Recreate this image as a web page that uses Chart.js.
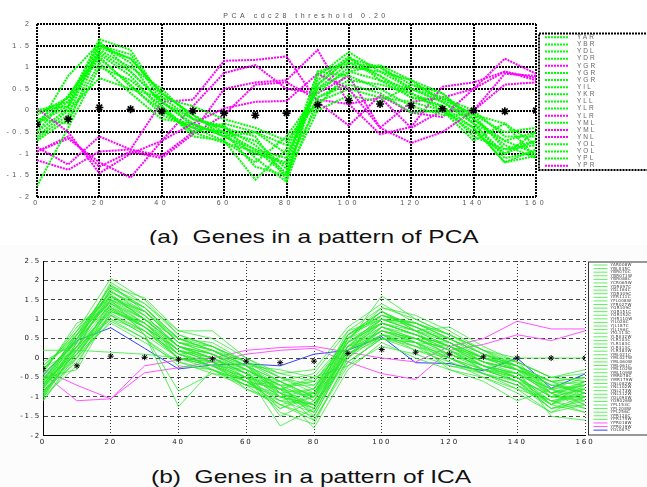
<!DOCTYPE html>
<html>
<head>
<meta charset="utf-8">
<script src="https://cdn.jsdelivr.net/npm/chart.js@4.4.1/dist/chart.umd.min.js"></script>
<style>
  html, body { margin: 0; padding: 0; background: #fff; }
  body { position: relative; width: 647px; height: 487px; overflow: hidden; font-family: "Liberation Sans", Arial, sans-serif; }
  #pcaCanvas { position: absolute; left: 0; top: 0; }
  .caption { position: absolute; font-size: 19px; line-height: 19px; color: #111; white-space: pre; transform: scaleX(1.29); transform-origin: 0 0; }
  #capA { left: 149px; top: 227px; }
  #lower { position: absolute; left: 0; top: 245px; width: 647px; height: 242px; background: #fcfcfc; }
  #icaCanvas { position: absolute; left: 0; top: 0; }
  #capB { left: 151px; top: 222px; }
</style>
</head>
<body>
<canvas id="pcaCanvas" width="647" height="215"></canvas>
<div class="caption" id="capA">(a)  Genes in a pattern of PCA</div>
<div id="lower">
  <canvas id="icaCanvas" width="647" height="215"></canvas>
  <div class="caption" id="capB">(b)  Genes in a pattern of ICA</div>
</div>
<script>
// time points (minutes) shared by both panels
const times = [0, 10, 20, 30, 40, 50, 60, 70, 80, 90, 100, 110, 120, 130, 140, 150, 160];

// ---- (a) PCA, cdc28, threshold 0.20 ----
const pcaGenes = ['YAR', 'YBR', 'YDL', 'YDR', 'YGR', 'YGR', 'YGR', 'YIL', 'YKR', 'YLL',
                  'YLR', 'YLR', 'YML', 'YML', 'YNL', 'YOL', 'YOL', 'YPL', 'YPR'];
// 'g' = green cluster, 'm' = magenta (anti-correlated)
const pcaGroup = ['g', 'g', 'g', 'g', 'm', 'g', 'g', 'g', 'g', 'g',
                  'g', 'm', 'g', 'm', 'm', 'g', 'g', 'g', 'm'];
const pcaValues = [
  [-0.3, 0.2, 1.65, 1.4, 0.3, -0.2, -0.4, -0.6, -1.6, 0.8, 1.35, 0.9, 0.5, 0.2, -0.3, -0.7, -1.0],
  [-0.1, 0.3, 1.5, 1.2, 0.4, -0.1, -0.5, -0.9, -1.5, 0.6, 1.2, 1.0, 0.6, 0.3, -0.1, -0.9, -0.7],
  [0.0, 0.1, 1.6, 0.9, 0.2, -0.3, -0.6, -1.0, -1.2, 0.9, 1.1, 0.8, 0.3, 0.1, -0.4, -1.2, -0.9],
  [-0.5, 0.35, 1.3, 0.8, 0.0, -0.4, -0.7, -1.6, -0.9, 0.5, 0.9, 1.05, 0.7, 0.4, -0.2, -0.8, -1.1],
  [0.05, -0.5, -1.45, -1.0, -0.7, -0.3, 0.05, 0.2, 0.22, 0.85, 0.5, -0.4, -0.75, -0.5, 0.0, 0.6, 0.65],
  [-1.75, -0.4, 1.0, 0.7, 0.1, -0.5, -0.3, -0.5, -1.0, 0.3, 0.7, 0.6, 0.4, 0.0, -0.5, -1.0, -0.5],
  [-0.6, 0.0, 0.75, 0.5, 0.3, 0.1, -0.2, -0.4, -0.7, 0.2, 0.5, 0.3, 0.2, 0.0, -0.7, -0.3, -0.8],
  [-0.2, -0.3, 1.4, 1.0, 0.5, -0.2, -0.4, -0.8, -1.45, 0.7, 1.25, 0.7, 0.5, 0.3, 0.0, -0.6, -0.6],
  [-0.4, 0.8, 1.55, 1.1, 0.1, -0.6, -0.7, -1.2, -0.6, 0.4, 1.0, 0.9, 0.7, 0.2, -0.3, -1.1, -0.95],
  [0.0, 0.2, 1.2, 0.6, -0.1, -0.4, -0.5, -0.7, -1.35, 0.9, 0.8, 0.5, 0.1, -0.1, -0.1, -0.5, -0.4],
  [-0.7, -0.2, 1.1, 0.4, -0.2, -0.3, -0.6, -0.9, -1.1, 0.6, 1.2, 0.8, 0.4, 0.1, -0.6, -0.9, -0.8],
  [-0.85, -1.25, -0.6, -0.9, -1.05, -0.5, 0.5, 0.65, 0.7, 1.4, 0.15, -0.55, -0.38, 0.55, 0.65, 0.9, 0.7],
  [-0.3, 0.1, 1.35, 0.9, 0.2, -0.2, -0.35, -1.1, -1.65, 0.3, 0.6, 0.4, -0.05, 0.0, -0.4, -1.2, -1.05],
  [-1.15, -1.37, -0.95, -0.9, 0.2, 0.25, 1.15, 1.17, 1.25, 0.2, -0.35, 0.35, -0.05, -0.15, 0.5, 1.2, 0.85],
  [-0.95, -0.65, -1.2, -1.55, -0.7, 0.1, 0.87, 1.05, 0.5, 0.4, 0.8, -0.4, 0.2, 0.3, 0.5, 0.9, 0.75],
  [-0.5, 0.05, 1.45, 1.2, 0.4, -0.1, -0.6, -0.5, -0.8, 0.5, 1.1, 1.0, 0.5, 0.2, -0.2, -0.7, -0.5],
  [-0.25, 0.3, 1.25, 0.55, 0.0, -0.5, -0.75, -0.95, -1.25, 0.1, 0.9, 0.7, 0.3, 0.25, -0.1, -0.3, -1.1],
  [-0.65, -0.1, 1.5, 1.3, 0.2, -0.35, -0.5, -1.3, -1.5, 0.0, 0.35, 0.2, 0.6, 0.4, -0.3, -1.0, -0.7],
  [-0.95, -0.6, -1.3, -0.95, -1.1, -0.55, -0.1, 0.6, 0.65, 0.25, 0.15, 0.3, -0.4, 0.0, 0.0, 0.85, 0.8]
];
const pcaMean = [-0.32, -0.2, 0.07, 0.03, -0.02, -0.01, -0.06, -0.11, -0.06, 0.13, 0.23, 0.15, 0.11, 0.04, 0.0, -0.02, 0.0];

// ---- (b) ICA ----
const icaGenes = ['YAR008W', 'YBL035C', 'YBR070C', 'YBR071W', 'YBR088C', 'YCR065W', 'YDR097C', 'YDL164C',
                  'YDR309C', 'YER111C', 'YFL008W', 'YFR027W', 'YGR109C', 'YGR151C', 'YGR152C', 'YHR110W',
                  'YIL026C', 'YJL187C', 'YJL196C', 'YKL113C', 'YLR032W', 'YLR103C', 'YLR183C', 'YLR313C',
                  'YLR383W', 'YML021C', 'YML027W', 'YML060W', 'YML061C', 'YML102W', 'YML109W', 'YMR078C',
                  'YMR179W', 'YNL082W', 'YNL102W', 'YNL273W', 'YNL312W', 'YOL090W', 'YOR026W', 'YPL153C',
                  'YPL208W', 'YPL256C', 'YPR120C', 'YPR175W', 'YPR018W', 'YPR019W', 'YOL007C'];
// 'g' green, 'm' magenta, 'b' blue
const icaGroup = ['g', 'g', 'g', 'g', 'g', 'g', 'g', 'g', 'g', 'g', 'g', 'g', 'g', 'g', 'g', 'g',
                  'g', 'g', 'g', 'g', 'g', 'g', 'g', 'g', 'g', 'g', 'g', 'g', 'g', 'g', 'g', 'g',
                  'g', 'g', 'g', 'g', 'g', 'g', 'g', 'g', 'g', 'g', 'g', 'g', 'm', 'm', 'b'];
const icaValues = [
  [-0.9, 0.5, 1.9, 1.2, 0.4, 0.1, -0.3, -0.8, -1.2, 0.3, 1.1, 0.8, 0.4, -0.1, -0.3, -1.0, -0.8],
  [-0.6, 0.3, 1.6, 1.0, 0.2, 0.0, -0.4, -1.0, -0.9, 0.5, 0.9, 0.6, 0.3, -0.2, -0.4, -0.8, -1.1],
  [-1.1, 0.1, 1.4, 0.8, 0.0, -0.2, -0.5, -0.7, -1.5, 0.1, 0.7, 0.5, 0.2, -0.3, -0.5, -1.2, -0.6],
  [-0.3, 0.7, 2.05, 1.5, 0.6, 0.3, -0.2, -0.6, -1.0, 0.4, 1.6, 1.0, 0.6, 0.1, -0.2, -0.9, -0.7],
  [0.2, 0.2, 0.15, 0.1, 0.0, -0.1, -0.2, -0.3, -0.5, -0.2, 0.3, 0.1, -0.2, -0.4, -0.6, -1.3, -1.0],
  [-0.8, 0.6, 1.7, 1.3, 0.5, 0.4, -0.1, -0.9, -1.3, 0.2, 1.0, 0.9, 0.5, 0.0, -0.2, -0.7, -0.9],
  [-0.5, -0.3, 1.2, 0.9, 0.3, -0.1, -0.6, -1.2, -1.0, 0.6, 1.2, 0.7, 0.0, -0.4, -0.7, -1.1, -1.3],
  [-1.0, 0.4, 1.8, 1.4, 0.7, 0.7, 0.0, -0.5, -0.7, 0.0, 0.8, 0.5, 0.4, 0.0, -0.1, -0.5, -0.4],
  [-0.7, 0.0, 1.5, 0.6, -1.25, -0.3, -0.6, -0.8, -1.6, -0.2, 0.6, 0.3, 0.1, -0.2, -0.4, -0.9, -1.2],
  [-0.4, 0.9, 1.3, 0.7, 0.1, 0.2, -0.3, -1.5, -1.1, 0.3, 0.5, 0.4, -0.1, -0.5, -0.8, -1.4, -1.0],
  [-0.95, 0.2, 1.0, 0.5, -0.2, -0.3, -0.7, -0.6, -0.4, 0.7, 1.3, 1.1, 0.7, 0.2, -0.3, -0.6, -0.5],
  [-0.2, 0.5, 1.75, 1.1, 0.3, 0.0, -0.4, -1.75, -1.3, 0.2, 0.9, 0.6, 0.2, -0.1, -0.3, -1.5, -1.6],
  [-0.65, 0.1, 0.9, 0.4, -0.1, -0.4, -0.5, -0.9, -1.8, -0.3, 0.4, 0.0, -0.3, -0.6, -1.1, -0.8, -0.7],
  [-0.75, 0.7, 1.6, 1.0, 0.5, 0.2, -0.2, -0.7, -0.6, 0.4, 1.0, 0.8, 0.5, 0.1, -0.2, -0.6, -0.9],
  [-1.05, 0.3, 1.2, 0.8, 0.2, -0.1, -0.8, -1.1, -1.4, 0.1, 0.6, 0.3, -0.2, -0.3, -0.6, -1.3, -1.2],
  [-0.1, 0.4, 1.5, 1.2, 0.4, 0.3, -0.1, -0.5, -0.8, 0.6, 1.1, 0.9, 0.6, 0.2, 0.0, 0.0, 0.0],
  [-0.85, -0.1, 1.1, 0.6, -0.85, -0.4, -0.7, -1.3, -0.9, 0.2, 0.7, 0.4, 0.3, -0.1, -0.5, -1.0, -0.8],
  [-0.55, 0.6, 1.85, 1.55, 0.7, 0.5, 0.0, -0.4, -0.3, 0.8, 1.4, 0.9, 0.5, 0.1, -0.3, -0.7, -0.6],
  [-0.9, 0.2, 1.3, 0.9, 0.1, -0.2, -0.6, -1.0, -1.2, -0.1, 0.5, 0.2, 0.0, -0.4, -0.7, -1.2, -1.4],
  [-0.35, 0.8, 1.6, 1.1, 0.3, 0.1, -0.3, -0.8, -0.5, 0.5, 1.2, 0.7, 0.8, 0.3, -0.1, -0.5, -0.3],
  [-0.7, 0.3, 1.0, 0.7, 0.0, -0.1, -0.5, -1.4, -1.7, 0.0, 0.6, 0.5, 0.1, -0.2, -0.5, -1.1, -1.0],
  [-1.0, -0.2, 1.4, 1.0, 0.3, 0.0, -0.4, -0.6, -1.0, 0.3, 0.8, 0.6, 0.3, -0.2, -0.4, -0.9, -0.6],
  [-0.45, 0.5, 1.7, 1.3, 0.5, 0.2, -0.2, -0.9, -0.8, 0.4, 1.0, 0.7, 0.4, -0.1, -0.3, -0.8, -1.0],
  [-0.6, 0.1, 1.25, 0.8, 0.2, -0.3, -0.8, -1.2, -1.5, 0.1, 0.5, 0.4, -0.3, -0.5, -0.9, -1.4, -1.2],
  [-0.8, 0.4, 1.55, 1.2, 0.4, 0.1, -0.3, -0.7, -1.1, 0.2, 0.9, 0.6, 0.3, 0.0, -0.3, -0.7, -0.8],
  [-0.3, 0.6, 1.45, 0.9, 0.2, 0.0, -0.4, -1.0, -1.3, 0.5, 1.3, 1.0, 0.6, 0.2, -0.1, -0.9, -0.7],
  [-1.1, 0.0, 1.1, 0.6, 0.0, -0.2, -0.5, -0.8, -0.6, 0.3, 0.7, 0.5, 0.2, -0.2, -0.5, -1.0, -1.1],
  [-0.5, 0.3, 1.65, 1.0, 0.3, 0.1, -0.2, -0.6, -1.0, 0.6, 1.1, 0.8, 0.4, 0.0, -0.2, -0.6, -0.5],
  [-0.7, 0.5, 1.35, 0.8, 0.1, -0.1, -0.6, -1.1, -1.2, 0.0, 0.8, 0.4, 0.0, -0.3, -0.6, -1.2, -0.9],
  [-0.25, 0.2, 1.8, 1.3, 0.4, 0.2, -0.1, -0.5, -0.9, 0.7, 1.0, 0.9, 0.5, 0.1, -0.2, -0.8, -1.2],
  [-0.9, 0.1, 1.15, 0.7, 0.0, -0.3, -0.7, -0.9, -1.4, 0.2, 0.6, 0.2, -0.1, -0.4, -0.8, -1.1, -0.9],
  [-0.6, 0.6, 1.5, 1.1, 0.3, 0.0, -0.3, -0.7, -0.7, 0.4, 0.9, 0.7, 0.3, -0.1, -0.3, -0.6, -0.7],
  [-0.4, 0.4, 1.95, 1.4, 0.6, 0.3, -0.1, -0.6, -1.1, 0.5, 1.2, 0.8, 0.4, 0.0, -0.2, -1.0, -0.6],
  [-1.0, 0.2, 1.2, 0.9, 0.2, -0.1, -0.5, -1.3, -1.0, 0.1, 0.7, 0.5, 0.1, -0.2, -0.6, -0.9, -1.3],
  [-0.75, 0.3, 1.4, 0.9, 0.1, -0.2, -0.6, -0.8, -1.3, 0.3, 0.9, 0.6, 0.2, -0.3, -0.4, -1.2, -0.8],
  [-0.55, 0.5, 1.6, 1.2, 0.4, 0.2, -0.2, -1.0, -0.8, 0.6, 1.0, 0.7, 0.5, 0.1, -0.1, -0.5, -0.6],
  [-0.85, 0.0, 0.95, 0.5, -0.1, -0.3, -0.6, -1.2, -1.6, -0.1, 0.5, 0.3, 0.0, -0.4, -0.7, -1.3, -1.1],
  [-0.3, 0.7, 1.7, 1.2, 0.5, 0.3, -0.1, -0.4, -0.6, 0.5, 1.1, 0.9, 0.6, 0.2, -0.2, -0.7, -0.9],
  [-0.65, 0.2, 1.3, 0.8, 0.2, -0.1, -0.4, -0.9, -1.2, 0.2, 0.8, 0.5, 0.2, -0.2, -0.5, -1.0, -1.0],
  [-0.95, 0.4, 1.5, 1.0, 0.3, 0.0, -0.5, -1.1, -0.9, 0.4, 0.9, 0.6, 0.3, -0.1, -0.4, -0.8, -0.5],
  [-0.5, 0.1, 1.1, 0.7, 0.1, -0.2, -0.3, -0.7, -1.4, 0.1, 0.6, 0.4, 0.1, -0.3, -0.6, -1.1, -1.4],
  [-0.2, 0.6, 1.85, 1.3, 0.5, 0.2, -0.2, -0.8, -1.0, 0.6, 1.2, 0.8, 0.4, 0.0, -0.3, -0.9, -0.8],
  [-0.8, 0.3, 1.25, 0.8, 0.0, -0.2, -0.7, -1.0, -1.2, 0.2, 0.7, 0.4, 0.0, -0.3, -0.5, -1.2, -0.7],
  [-0.6, 0.5, 1.45, 1.0, 0.3, 0.1, -0.4, -0.8, -0.9, 0.3, 1.0, 0.7, 0.3, 0.0, -0.2, -0.6, -1.0],
  [-0.3, -0.7, -1.05, -0.2, -0.05, 0.0, 0.2, 0.27, 0.3, 0.15, 0.0, -0.1, 0.3, 0.5, 0.95, 0.75, 0.75],
  [-0.4, -1.1, -1.05, -0.38, -0.25, -0.1, 0.1, 0.2, 0.25, -0.1, -0.4, -0.55, 0.2, 0.35, 0.6, 0.45, 0.7],
  [-0.45, 0.45, 0.78, 0.25, -0.28, -0.18, -0.15, -0.2, 0.1, 0.2, 0.55, -0.12, -0.14, -0.33, 0.0, -0.78, -0.41]
];
const icaMean = [-0.27, -0.2, 0.05, 0.02, -0.03, -0.02, -0.08, -0.12, -0.08, 0.12, 0.22, 0.15, 0.1, 0.03, 0.0, 0.0, 0.0];

const pcaColors = { g: '#00ff00', m: '#ff00ff' };
const icaColors = { g: 'rgba(40,235,40,0.75)', m: '#ff55ff', b: '#3344ff' };

function points(vals) {
  return times.map((t, i) => ({ x: t, y: vals[i] }));
}

// plain number labels: 2, 1.5, 1, ... (not 2.0, 1.0)
const plainTick = v => String(v);

// canvas letterSpacing for all chart text (ticks, title)
const spacing = {
  id: 'spacing',
  beforeLayout(chart, args, o) { chart.ctx.letterSpacing = o.value || '0px'; },
  beforeDraw(chart, args, o) { chart.ctx.letterSpacing = o.value || '0px'; }
};

// boxed legend, MATLAB style, drawn from the datasets
const geneLegend = {
  id: 'geneLegend',
  afterDraw(chart, args, o) {
    const ctx = chart.ctx;
    const items = chart.data.datasets.filter(d => !d.mean);
    ctx.save();
    ctx.fillStyle = '#fff';
    ctx.fillRect(o.x, o.y, o.w, o.h);
    ctx.strokeStyle = o.borderColor;
    ctx.lineWidth = o.borderWidth;
    ctx.setLineDash(o.borderDash || []);
    ctx.strokeRect(o.x, o.y, o.w, o.h);
    ctx.font = o.font;
    ctx.letterSpacing = o.letterSpacing || '0px';
    ctx.textBaseline = 'middle';
    items.forEach((d, i) => {
      const y = o.y + o.first + i * o.rowH;
      ctx.setLineDash(d.borderDash || []);
      ctx.strokeStyle = d.borderColor;
      ctx.lineWidth = d.borderWidth;
      ctx.beginPath();
      ctx.moveTo(o.x + o.lineX0, y);
      ctx.lineTo(o.x + o.lineX1, y);
      ctx.stroke();
      ctx.fillStyle = o.textColor;
      ctx.fillText(d.label, o.x + o.textX, y);
    });
    ctx.restore();
  }
};

// ---------- panel (a) ----------
const pcaSets = [{
  label: 'mean', mean: true, data: points(pcaMean), showLine: false,
  pointStyle: 'star', pointRadius: 4, borderColor: '#000', backgroundColor: '#000', borderWidth: 1.6
}].concat(pcaValues.map((v, i) => ({
  label: pcaGenes[i], data: points(v),
  borderColor: pcaColors[pcaGroup[i]], borderWidth: 2, borderDash: [2, 1],
  pointRadius: 0, tension: 0, fill: false
})));

new Chart(document.getElementById('pcaCanvas'), {
  type: 'line',
  data: { datasets: pcaSets },
  options: {
    responsive: false, animation: false, events: [],
    layout: { padding: { left: 0, right: 35, top: 0, bottom: 0 } },
    plugins: {
      legend: { display: false }, tooltip: { enabled: false },
      title: {
        display: true, text: 'PCA cdc28 threshold 0.20', color: '#555',
        font: { family: 'Liberation Sans', size: 7, weight: 'normal', lineHeight: 1.2 },
        padding: { top: 11.4, bottom: 4.2 }
      },
      spacing: { value: '3.5px' },
      geneLegend: {
        x: 539, y: 33.5, w: 150, h: 136.5, first: 3.8, rowH: 7.13,
        lineX0: 6, lineX1: 29, textX: 38,
        font: '6.5px "Liberation Sans"', textColor: '#666', letterSpacing: '2px',
        borderColor: '#000', borderWidth: 2, borderDash: [2, 1]
      }
    },
    scales: {
      x: {
        type: 'linear', min: 0, max: 160,
        ticks: { stepSize: 20, color: '#555', padding: 2, callback: plainTick, font: { family: 'Liberation Sans', size: 7 } },
        grid: { color: '#000', lineWidth: 2, drawTicks: false },
        border: { display: false, dash: [2, 1] },
        afterFit: s => { s.height = 18; }
      },
      y: {
        min: -2, max: 2,
        ticks: { stepSize: 0.5, color: '#555', padding: 4.5, callback: plainTick, font: { family: 'Liberation Sans', size: 7 } },
        grid: { color: '#000', lineWidth: 2, drawTicks: false },
        border: { display: false, dash: [2, 1] },
        afterFit: s => { s.width = 37; }
      },
      // empty right-hand axis that keeps room for the legend box
      yr: {
        position: 'right', min: 0, max: 1,
        ticks: { display: false }, grid: { display: false }, border: { display: false },
        afterFit: s => { s.width = 76; }
      }
    }
  },
  plugins: [spacing, geneLegend]
});

// ---------- panel (b) ----------
const icaSets = [{
  label: 'mean', mean: true, data: points(icaMean), showLine: false,
  pointStyle: 'star', pointRadius: 3, borderColor: '#000', backgroundColor: '#000', borderWidth: 1
}].concat(icaValues.map((v, i) => ({
  label: icaGenes[i], data: points(v),
  borderColor: icaColors[icaGroup[i]], borderWidth: 1,
  pointRadius: 0, tension: 0, fill: false
})));

new Chart(document.getElementById('icaCanvas'), {
  type: 'line',
  data: { datasets: icaSets },
  options: {
    responsive: false, animation: false, events: [],
    layout: { padding: { left: 0, right: 62, top: 16, bottom: 0 } },
    plugins: {
      legend: { display: false }, tooltip: { enabled: false },
      spacing: { value: '1.8px' },
      geneLegend: {
        x: 588.5, y: 17, w: 80, h: 173, first: 3, rowH: 3.59,
        lineX0: 5, lineX1: 19, textX: 22,
        font: '4px "DejaVu Sans"', textColor: '#333', letterSpacing: '0.3px',
        borderColor: '#333', borderWidth: 1
      }
    },
    scales: {
      x: {
        type: 'linear', min: 0, max: 160,
        ticks: { stepSize: 20, color: '#222', padding: 2, callback: plainTick, font: { family: 'DejaVu Sans', size: 7 } },
        grid: { color: '#333', lineWidth: 1, drawTicks: false },
        border: { display: true, color: '#000', width: 1, dash: [1, 2] },
        afterFit: s => { s.height = 24.3; }
      },
      y: {
        min: -2, max: 2.5,
        ticks: { stepSize: 0.5, color: '#222', padding: 2, callback: plainTick, font: { family: 'DejaVu Sans', size: 7 } },
        grid: { color: '#444', lineWidth: 1, drawTicks: false },
        border: { display: true, color: '#000', width: 1, dash: [4, 3] },
        afterFit: s => { s.width = 43; }
      }
    }
  },
  plugins: [spacing, geneLegend]
});
</script>
</body>
</html>
